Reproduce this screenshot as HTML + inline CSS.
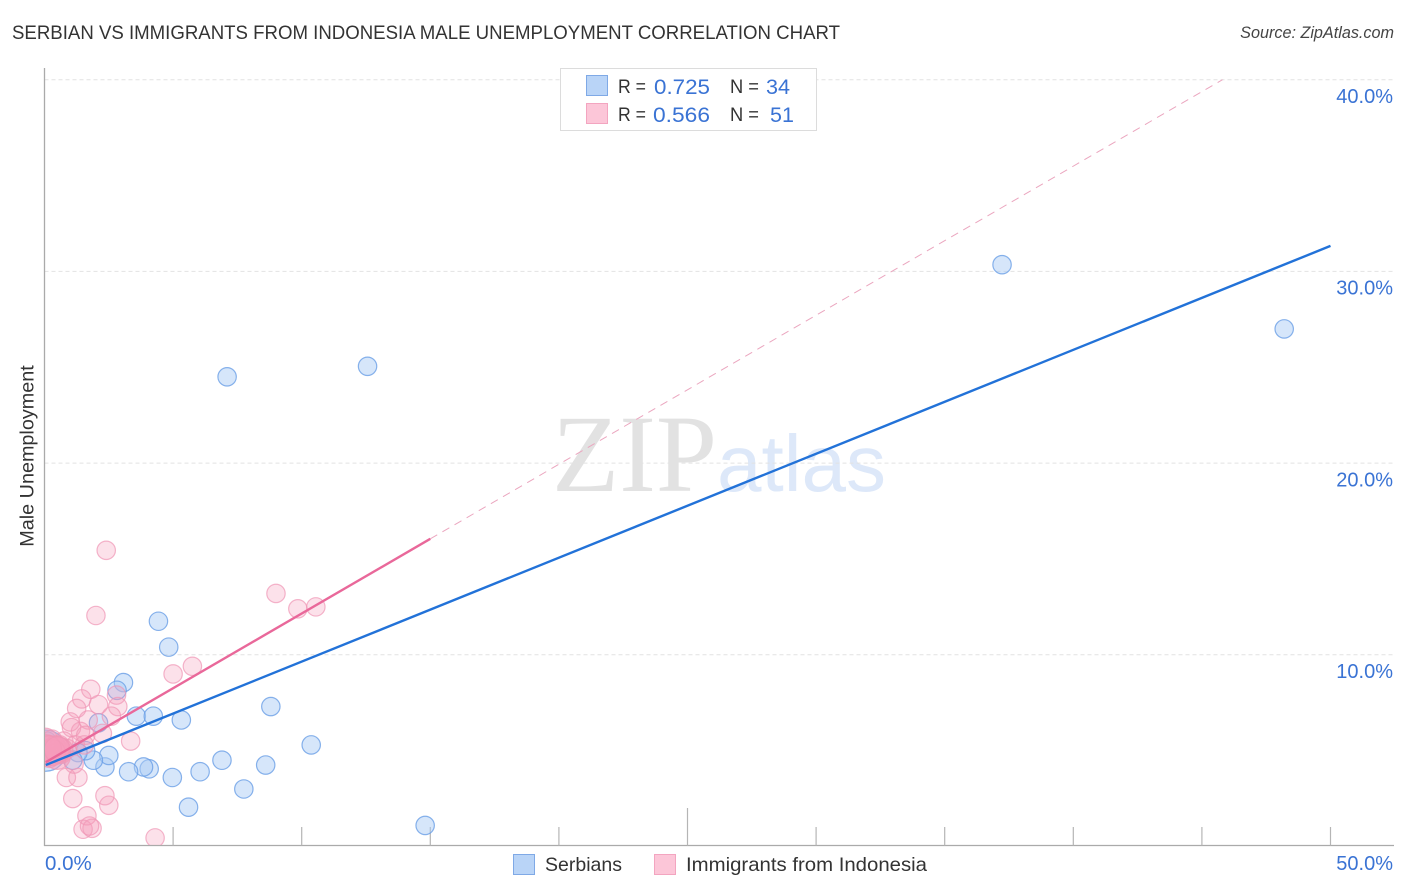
<!DOCTYPE html>
<html lang="en">
<head>
<meta charset="utf-8">
<title>Serbian vs Immigrants from Indonesia Male Unemployment Correlation Chart</title>
<style>
html,body{margin:0;padding:0;background:#fff;width:1406px;height:892px;overflow:hidden}
svg{display:block}
text{font-family:"Liberation Sans",sans-serif}
</style>
</head>
<body>
<svg id="chart" xmlns="http://www.w3.org/2000/svg" width="1406" height="892" viewBox="0 0 1406 892">
  <defs><clipPath id="plot-clip"><rect x="45" y="60" width="1349" height="785"/></clipPath></defs>
  <text x="12" y="39" font-size="19" fill="#333" textLength="828" lengthAdjust="spacingAndGlyphs">SERBIAN VS IMMIGRANTS FROM INDONESIA MALE UNEMPLOYMENT CORRELATION CHART</text>
  <text x="1394" y="38" font-size="16.2" font-style="italic" fill="#444" text-anchor="end">Source: ZipAtlas.com</text>
  <g>
    <text x="552" y="491" font-size="110" fill="#e2e2e2" style="font-family:'Liberation Serif',serif">ZIP</text>
    <text x="717" y="491" font-size="80" fill="#dde8f9" style="font-family:'Liberation Sans',sans-serif">atlas</text>
  </g>
  <g id="grid"></g>
  <g id="axes"></g>
  <g id="points" clip-path="url(#plot-clip)"></g>
  <g id="lines"></g>
  <g id="labels"></g>
  <text transform="translate(33.5,456) rotate(-90)" font-size="19.8" fill="#333" text-anchor="middle">Male Unemployment</text>

  <g>
    <rect x="560.5" y="68.5" width="256" height="62" fill="#fff" stroke="#dcdcdc"/>
    <rect x="586.5" y="75.5" width="21" height="20" fill="#b9d4f7" stroke="#7fa9e6"/>
    <rect x="586.5" y="103.5" width="21" height="20" fill="#fcc6d8" stroke="#f3a5c0"/>
    <text x="618" y="93" font-size="19" fill="#333" textLength="28" lengthAdjust="spacingAndGlyphs">R =</text>
    <text x="654" y="94" font-size="21.5" fill="#3a73d4" textLength="56" lengthAdjust="spacingAndGlyphs">0.725</text>
    <text x="730" y="93" font-size="19" fill="#333" textLength="29" lengthAdjust="spacingAndGlyphs">N =</text>
    <text x="766" y="94" font-size="21.5" fill="#3a73d4" textLength="24" lengthAdjust="spacingAndGlyphs">34</text>
    <text x="618" y="121" font-size="19" fill="#333" textLength="28" lengthAdjust="spacingAndGlyphs">R =</text>
    <text x="653" y="122" font-size="21.5" fill="#3a73d4" textLength="57" lengthAdjust="spacingAndGlyphs">0.566</text>
    <text x="730" y="121" font-size="19" fill="#333" textLength="29" lengthAdjust="spacingAndGlyphs">N =</text>
    <text x="770" y="122" font-size="21.5" fill="#3a73d4">51</text>
  </g>

  <g>
    <g>
      <rect x="513.5" y="854.5" width="21" height="20" fill="#b9d4f7" stroke="#7fa9e6"/>
      <text x="545" y="871" font-size="19.5" fill="#333" textLength="77" lengthAdjust="spacingAndGlyphs">Serbians</text>
    </g>
    <g>
      <rect x="654.5" y="854.5" width="21" height="20" fill="#fcc6d8" stroke="#f3a5c0"/>
      <text x="686" y="871" font-size="19.5" fill="#333" textLength="241" lengthAdjust="spacingAndGlyphs">Immigrants from Indonesia</text>
    </g>
  </g>
</svg>
<script>
// Values (percent on both axes)
const serbiansX = [37.23,48.2,7.1,12.56,4.43,4.83,3.07,2.82,2.1,3.57,4.23,5.32,8.8,10.37,6.9,8.6,6.05,4.97,4.07,3.85,3.27,2.35,2.5,1.9,1.6,7.75,5.6,14.8,1.3,1.1,0.1,0.2,0.6,0.05];
const serbiansY = [30.35,27.0,24.5,25.05,11.75,10.4,8.55,8.15,6.45,6.8,6.8,6.6,7.3,5.3,4.5,4.25,3.9,3.6,4.05,4.15,3.9,4.15,4.75,4.5,5.0,3.0,2.05,1.1,4.9,4.5,5.5,5.1,5.0,5.0];
const serbiansSize = [1,1,1,1,1,1,1,1,1,1,1,1,1,1,1,1,1,1,1,1,1,1,1,1,1,1,1,1,1,1,1,1,1,5];
const indonesiaX = [2.4,2.0,9.0,9.85,10.55,5.75,5.0,1.8,1.45,2.8,2.85,1.25,2.6,2.1,1.0,1.7,1.4,1.05,1.6,2.25,3.35,0.6,0.9,0.2,0.4,0.15,0.3,0.5,0.65,0.02,0.05,0.2,0.75,1.2,1.55,0.85,1.3,1.1,2.5,2.35,1.65,1.5,1.85,1.75,4.3,0.6,0.45,0.3,0.15,0.5,1.15];
const indonesiaY = [15.45,12.05,13.2,12.4,12.5,9.4,9.0,8.2,7.7,7.9,7.3,7.2,6.8,7.4,6.5,6.6,6.0,6.2,5.8,5.9,5.5,5.3,5.1,5.3,5.0,4.9,5.6,4.7,4.9,5.5,5.0,4.6,5.5,5.3,5.3,3.6,3.6,2.5,2.15,2.65,1.6,0.9,0.95,1.07,0.45,5.0,5.1,4.9,5.1,5.05,4.3];
const indonesiaSize = [1,1,1,1,1,1,1,1,1,1,1,1,1,1,1,1,1,1,1,1,1,1,1,1,2,2,1,2,1,2,3,1,1,1,1,1,1,1,1,1,1,1,1,1,1,2,2,2,2,2,1];
const serbiansTrend = [0.05,4.25,50,31.33];
const indonesiaTrend = [0.05,4.4,15,16.05];
const indonesiaTrendFuture = [45.8,40];
const xTickValues = [0,5,10,15,20,25,30,35,40,45,50];
const xMajorTicks = [25];
const yGridValues = [10,20,30,40];
const yTickLabels = ['10.0%','20.0%','30.0%','40.0%'];
const xEndLabels = ['0.0%','50.0%'];

const NS = 'http://www.w3.org/2000/svg';
function xScale(v){ return 44.5 + v * 25.72; }
function yScale(v){ return 846.5 - v * 19.17; }
function make(tag, parent, attrs){
  const el = document.createElementNS(NS, tag);
  for (const k in attrs) el.setAttribute(k, attrs[k]);
  parent.appendChild(el);
  return el;
}
const grid = document.getElementById('grid');
const axes = document.getElementById('axes');
const pts = document.getElementById('points');
const lines = document.getElementById('lines');
const labels = document.getElementById('labels');

yGridValues.forEach(function(v){
  const g = make('line', grid, {x1:44.5, x2:1394, y1:yScale(v), y2:yScale(v), stroke:'#e2e2e2', 'stroke-width':1, 'stroke-dasharray':'4 3'});
  
  
});

const yAxis = make('line', axes, {x1:44.5, x2:44.5, y1:68, y2:846, stroke:'#aaa', 'stroke-width':1.3});


const xAxis = make('line', axes, {x1:44, x2:1394, y1:845.5, y2:845.5, stroke:'#aaa', 'stroke-width':1.3});



xTickValues.forEach(function(v){
  if (v === 0) return;
  const major = xMajorTicks.indexOf(v) >= 0;
  const t = make('line', axes, {x1:xScale(v), x2:xScale(v), y1:major ? 808 : 827, y2:845.5, stroke:'#b5b5b5', 'stroke-width':1.2});
  
  
});

yGridValues.forEach(function(v, i){
  const t = make('text', labels, {x:1393, y:yScale(v) + 23.3, 'font-size':20, fill:'#3a73d4', 'text-anchor':'end'});
  t.textContent = yTickLabels[i];
  
  
});
const x0 = make('text', labels, {x:xScale(0) + 0.5, y:870, 'font-size':20.5, fill:'#3a73d4'});
x0.textContent = xEndLabels[0];


const x1 = make('text', labels, {x:1393, y:870, 'font-size':20, fill:'#3a73d4', 'text-anchor':'end'});
x1.textContent = xEndLabels[1];



serbiansX.forEach(function(v, i){
  const c = make('circle', pts, {cx:xScale(v), cy:yScale(serbiansY[i]), r:9.2 * Math.sqrt(serbiansSize[i]), fill:'#a9caf5', 'fill-opacity':0.48, stroke:'#6a9fe6', 'stroke-opacity':0.8, 'stroke-width':1.2});
  
  
});
indonesiaX.forEach(function(v, i){
  const c = make('circle', pts, {cx:xScale(v), cy:yScale(indonesiaY[i]), r:9.2 * Math.sqrt(indonesiaSize[i]), fill:'#f59cbb', 'fill-opacity':indonesiaSize[i] > 1 ? 0.55 : 0.3, stroke:'#f095b5', 'stroke-opacity':0.7, 'stroke-width':1.2});
  
  
});

const pinkDash = make('line', lines, {x1:xScale(indonesiaTrend[2]), y1:yScale(indonesiaTrend[3]), x2:xScale(indonesiaTrendFuture[0]), y2:yScale(indonesiaTrendFuture[1]), stroke:'#eba6bf', 'stroke-width':1, 'stroke-dasharray':'8 6'});


const pinkLine = make('line', lines, {x1:xScale(indonesiaTrend[0]), y1:yScale(indonesiaTrend[1]), x2:xScale(indonesiaTrend[2]), y2:yScale(indonesiaTrend[3]), stroke:'#e9689a', 'stroke-width':2.4});


const blueLine = make('line', lines, {x1:xScale(serbiansTrend[0]), y1:yScale(serbiansTrend[1]), x2:xScale(serbiansTrend[2]), y2:yScale(serbiansTrend[3]), stroke:'#2272d8', 'stroke-width':2.4});


</script>
</body>
</html>
